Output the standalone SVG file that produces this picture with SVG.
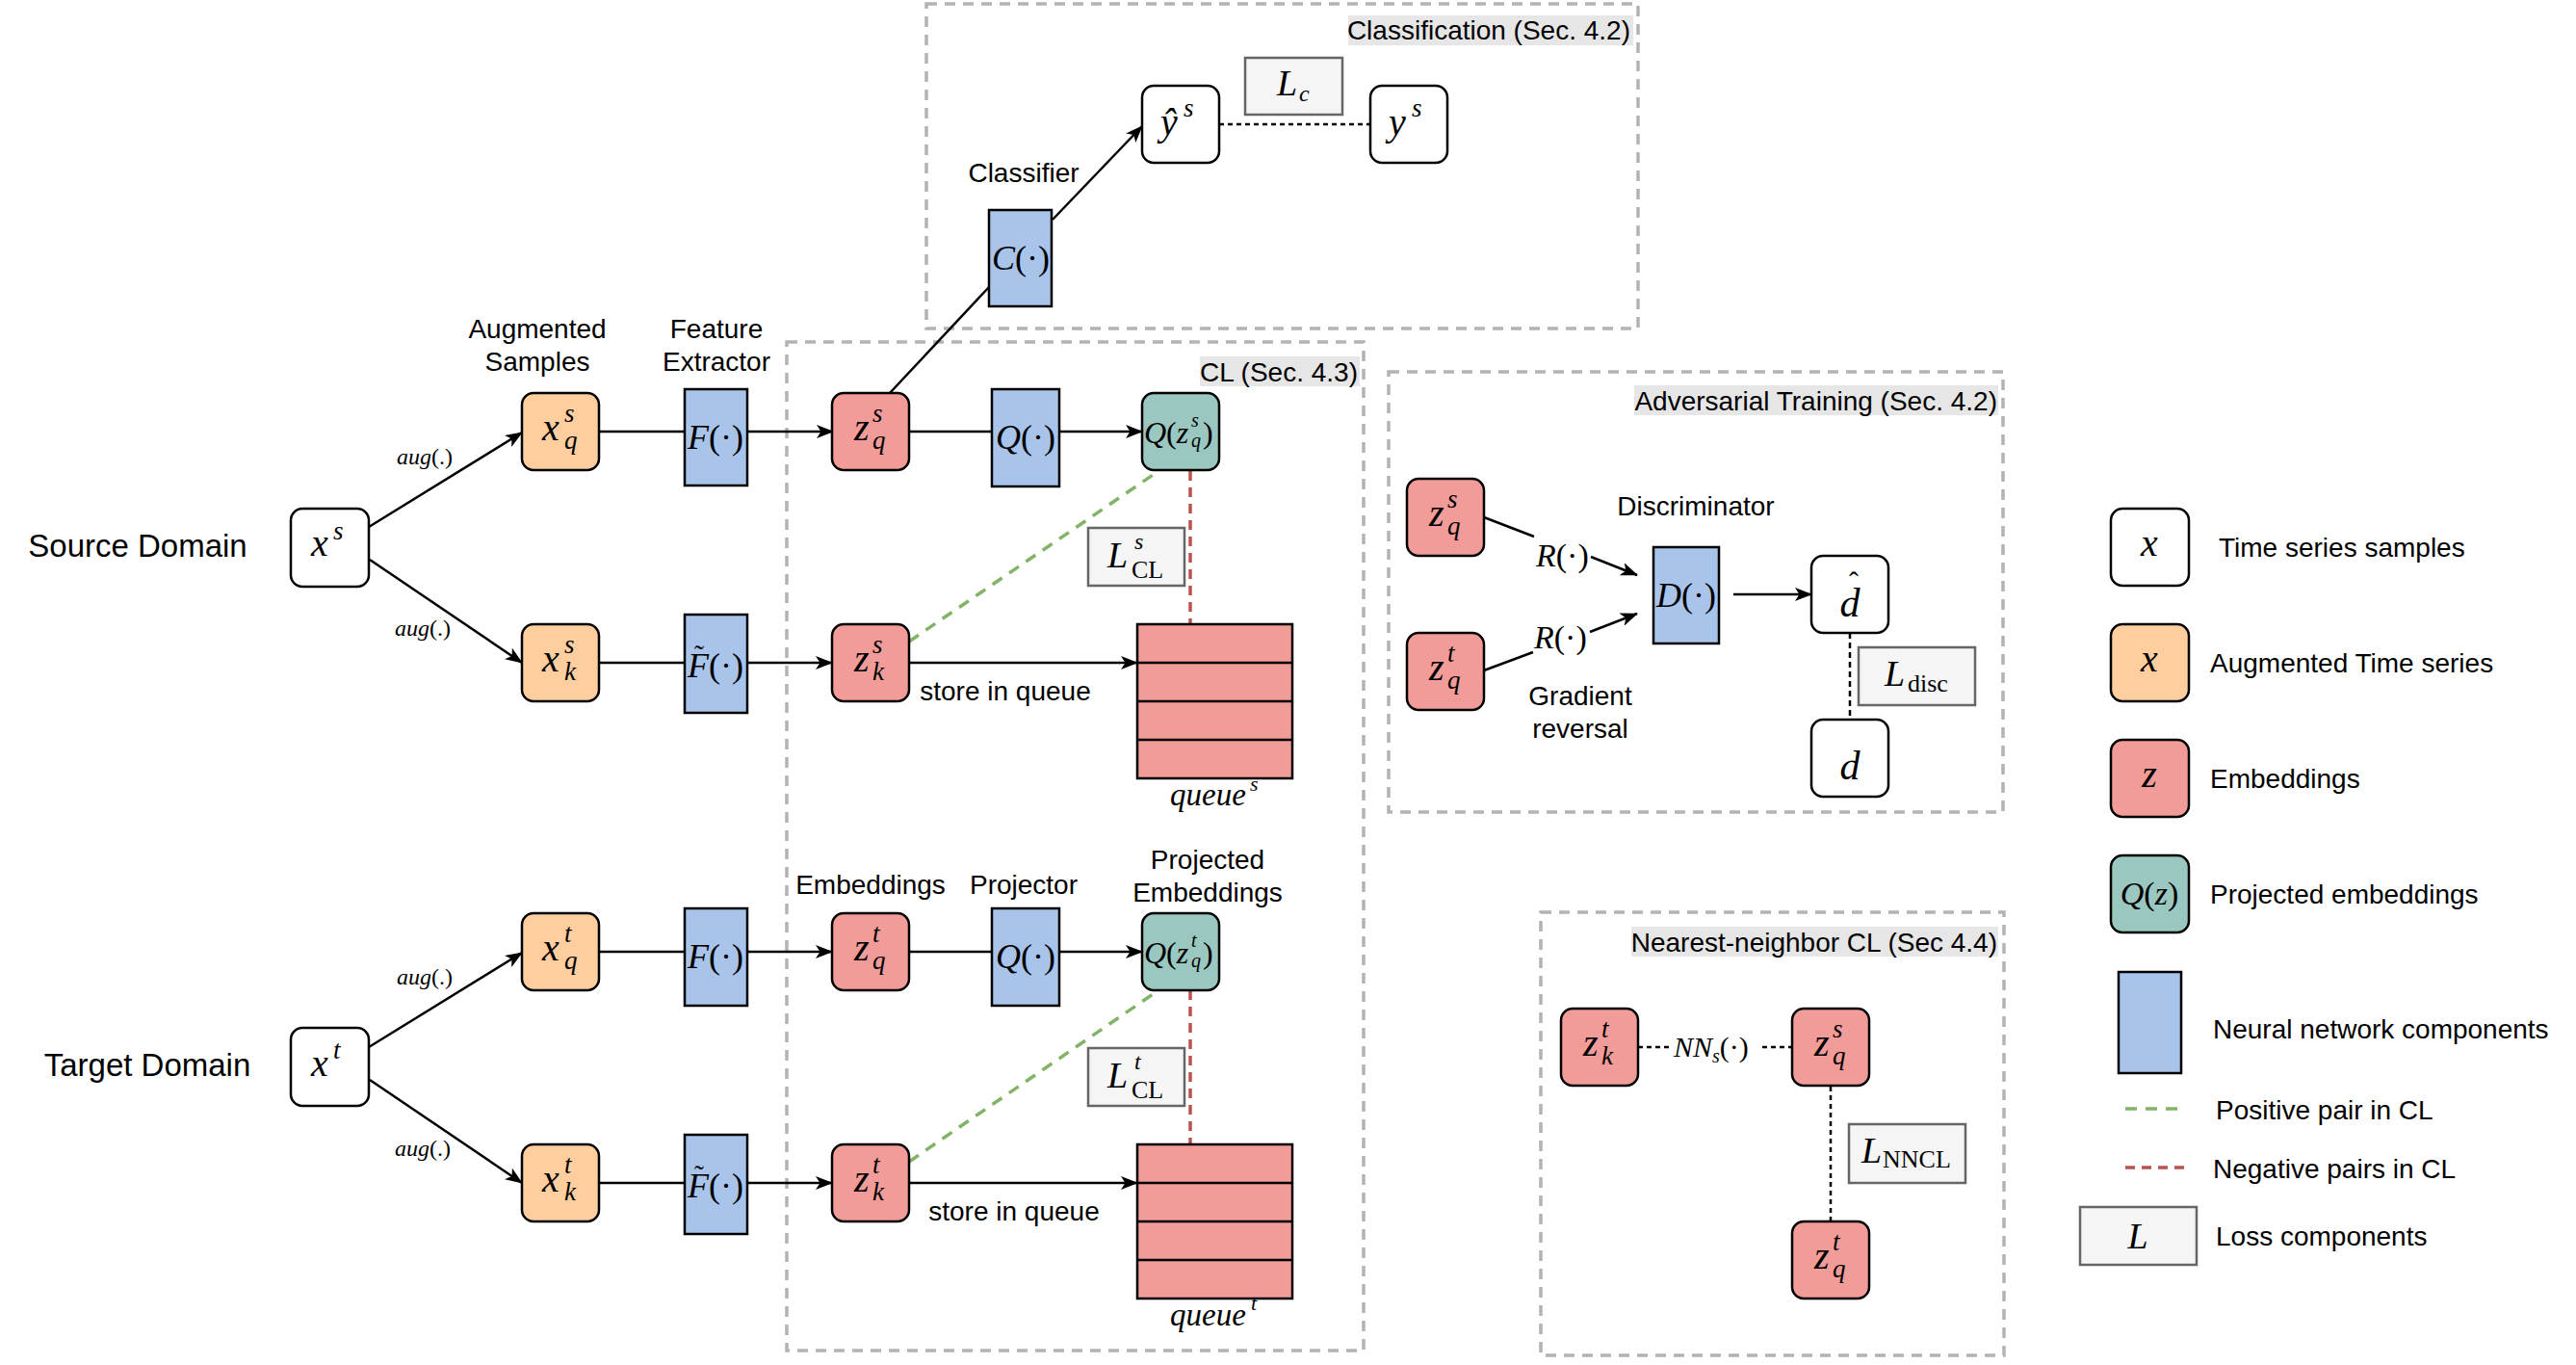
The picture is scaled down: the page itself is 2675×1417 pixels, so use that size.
<svg xmlns="http://www.w3.org/2000/svg" width="2675" height="1417" viewBox="0 0 2675 1417">
<defs>
<marker id="arr" viewBox="0 0 18 14" refX="17" refY="7" markerWidth="18" markerHeight="14" markerUnits="userSpaceOnUse" orient="auto"><path d="M0,0 L18,7 L0,14 L4.5,7 z" fill="#000"/></marker>
<style>
.t{font-family:"Liberation Sans",Arial,sans-serif;font-size:28px;fill:#000}
.dom{font-size:33px}
.mi{font-family:"Liberation Serif","Times New Roman",serif;font-style:italic;fill:#000}
.mr{font-family:"Liberation Serif","Times New Roman",serif;font-style:normal;fill:#000}
.b40{font-size:40px}
.s27{font-size:27px}
.nw{fill:#fff;stroke:#000;stroke-width:2.5}
.no{fill:#FFCE9F;stroke:#000;stroke-width:2.5}
.nr{fill:#F19C99;stroke:#000;stroke-width:2.5}
.ng{fill:#9AC7BF;stroke:#000;stroke-width:2.5}
.nb{fill:#A9C4EB;stroke:#000;stroke-width:2.5}
.nl{fill:#F5F5F5;stroke:#666;stroke-width:2.5}
.grp{fill:none;stroke:#B3B3B3;stroke-width:3.5;stroke-dasharray:11 8}
.ttl{fill:#E6E6E6}
.c{fill:none;stroke:#000;stroke-width:2.5}
.ca{fill:none;stroke:#000;stroke-width:2.5;marker-end:url(#arr)}
.pos{fill:none;stroke:#82B366;stroke-width:3.5;stroke-dasharray:12 9}
.neg{fill:none;stroke:#B85450;stroke-width:3.5;stroke-dasharray:10 7}
.dot{fill:none;stroke:#000;stroke-width:2.5;stroke-dasharray:5 4}
</style>
</defs>
<rect width="2675" height="1417" fill="#fff"/>

<g id="groups">
<rect class="grp" x="962" y="4" width="739" height="337"/>
<rect class="ttl" x="1400" y="16" width="296" height="31"/>
<text class="t" x="1693" y="41" text-anchor="end">Classification (Sec. 4.2)</text>
<rect class="grp" x="817" y="355" width="599" height="1047"/>
<rect class="ttl" x="1246" y="370" width="166" height="31"/>
<text class="t" x="1410" y="396" text-anchor="end">CL (Sec. 4.3)</text>
<rect class="grp" x="1442" y="386" width="638" height="457"/>
<rect class="ttl" x="1697" y="400" width="378" height="31"/>
<text class="t" x="2074" y="426" text-anchor="end">Adversarial Training (Sec. 4.2)</text>
<rect class="grp" x="1600" y="947" width="481" height="460"/>
<rect class="ttl" x="1694" y="962" width="381" height="31"/>
<text class="t" x="2074" y="988" text-anchor="end">Nearest-neighbor CL (Sec 4.4)</text>
</g>

<g id="labels">
<text class="t dom" x="143" y="578" text-anchor="middle">Source Domain</text>
<text class="t dom" x="153" y="1117" text-anchor="middle">Target Domain</text>
<text class="t" x="558" y="351" text-anchor="middle">Augmented</text>
<text class="t" x="558" y="385" text-anchor="middle">Samples</text>
<text class="t" x="744" y="351" text-anchor="middle">Feature</text>
<text class="t" x="744" y="385" text-anchor="middle">Extractor</text>
<text class="t" x="1063" y="189" text-anchor="middle">Classifier</text>
<text class="t" x="1761" y="535" text-anchor="middle">Discriminator</text>
<text class="t" x="1641" y="732" text-anchor="middle">Gradient</text>
<text class="t" x="1641" y="766" text-anchor="middle">reversal</text>
<text class="t" x="904" y="928" text-anchor="middle">Embeddings</text>
<text class="t" x="1063" y="928" text-anchor="middle">Projector</text>
<text class="t" x="1254" y="902" text-anchor="middle">Projected</text>
<text class="t" x="1254" y="936" text-anchor="middle">Embeddings</text>
<text class="t" x="1044" y="727" text-anchor="middle">store in queue</text>
<text class="t" x="1053" y="1267" text-anchor="middle">store in queue</text>
<text class="mi" x="412" y="482" font-size="24">aug<tspan class="mr">(.)</tspan></text>
<text class="mi" x="410" y="660" font-size="24">aug<tspan class="mr">(.)</tspan></text>
<text class="mi" x="412" y="1022" font-size="24">aug<tspan class="mr">(.)</tspan></text>
<text class="mi" x="410" y="1200" font-size="24">aug<tspan class="mr">(.)</tspan></text>
<text class="mi" x="1215" y="836" font-size="33">queue</text><text class="mi" x="1298" y="821" font-size="22">s</text>
<text class="mi" x="1215" y="1376" font-size="33">queue</text><text class="mi" x="1299" y="1360" font-size="22">t</text>
</g>

<g id="connectors">
<line class="ca" x1="383" y1="547" x2="542" y2="449"/>
<line class="ca" x1="384" y1="581" x2="542" y2="688"/>
<line class="c" x1="622" y1="448" x2="711" y2="448"/>
<line class="ca" x1="776" y1="448" x2="865" y2="448"/>
<line class="c" x1="622" y1="688" x2="711" y2="688"/>
<line class="ca" x1="776" y1="688" x2="864" y2="688"/>
<line class="c" x1="944" y1="448" x2="1030" y2="448"/>
<line class="ca" x1="1100" y1="448" x2="1186" y2="448"/>
<line class="c" x1="924" y1="408" x2="1027" y2="298"/>
<line class="ca" x1="1093" y1="228" x2="1186" y2="131"/>
<line class="dot" x1="1266" y1="129" x2="1423" y2="129"/>
<line class="ca" x1="944" y1="688" x2="1181" y2="688"/>
<line class="pos" x1="944" y1="666" x2="1203" y2="489"/>
<line class="neg" x1="1236" y1="489" x2="1236" y2="648"/>

<line class="ca" x1="383" y1="1087" x2="542" y2="989"/>
<line class="ca" x1="384" y1="1121" x2="542" y2="1228"/>
<line class="c" x1="622" y1="988" x2="711" y2="988"/>
<line class="ca" x1="776" y1="988" x2="864" y2="988"/>
<line class="c" x1="622" y1="1228" x2="711" y2="1228"/>
<line class="ca" x1="776" y1="1228" x2="864" y2="1228"/>
<line class="c" x1="944" y1="988" x2="1030" y2="988"/>
<line class="ca" x1="1100" y1="988" x2="1186" y2="988"/>
<line class="ca" x1="944" y1="1228" x2="1181" y2="1228"/>
<line class="pos" x1="944" y1="1206" x2="1203" y2="1028"/>
<line class="neg" x1="1236" y1="1028" x2="1236" y2="1188"/>

<line class="c" x1="1541" y1="537" x2="1593" y2="557"/>
<line class="ca" x1="1652" y1="578" x2="1700" y2="597"/>
<line class="c" x1="1541" y1="696" x2="1592" y2="677"/>
<line class="ca" x1="1651" y1="656" x2="1700" y2="637"/>
<line class="ca" x1="1800" y1="617" x2="1881" y2="617"/>
<line class="c" x1="1921" y1="657" x2="1921" y2="747" stroke-dasharray="6 4" stroke-width="2"/>

<line class="dot" x1="1701" y1="1087" x2="1736" y2="1087"/>
<line class="dot" x1="1830" y1="1087" x2="1861" y2="1087"/>
<line class="dot" x1="1901" y1="1128" x2="1901" y2="1268"/>
</g>

<g id="source">
<g id="n-xs"><rect class="nw" x="302" y="528" width="81" height="81" rx="12"/><text class="mi b40" x="323" y="577">x</text><text class="mi s27" x="346" y="560">s</text></g>
<g id="n-xqs"><rect class="no" x="542" y="408" width="80" height="80" rx="12"/><text class="mi b40" x="563" y="457">x</text><text class="mi s27" x="586" y="438">s</text><text class="mi s27" x="586" y="466">q</text></g>
<g id="n-xks"><rect class="no" x="542" y="648" width="80" height="80" rx="12"/><text class="mi b40" x="563" y="697">x</text><text class="mi s27" x="586" y="678">s</text><text class="mi s27" x="586" y="706">k</text></g>
<g id="n-Fs"><rect class="nb" x="711" y="404" width="65" height="100"/><text class="mi" x="743" y="466" font-size="36" text-anchor="middle">F<tspan class="mr">(·)</tspan></text></g>
<g id="n-Fts"><rect class="nb" x="711" y="638" width="65" height="102"/><text class="mi" x="743" y="703" font-size="36" text-anchor="middle">F<tspan class="mr">(·)</tspan></text><text class="mr" x="726" y="690" font-size="30" text-anchor="middle">˜</text></g>
<g id="n-zqs"><rect class="nr" x="864" y="408" width="80" height="80" rx="12"/><text class="mi b40" x="887" y="457">z</text><text class="mi s27" x="906" y="438">s</text><text class="mi s27" x="906" y="466">q</text></g>
<g id="n-zks"><rect class="nr" x="864" y="648" width="80" height="80" rx="12"/><text class="mi b40" x="887" y="697">z</text><text class="mi s27" x="906" y="678">s</text><text class="mi s27" x="906" y="706">k</text></g>
<g id="n-Qs"><rect class="nb" x="1030" y="404" width="70" height="101"/><text class="mi" x="1065" y="466" font-size="36" text-anchor="middle">Q<tspan class="mr">(·)</tspan></text></g>
<g id="n-Qzqs"><rect class="ng" x="1186" y="408" width="80" height="80" rx="12"/><text class="mi" x="1188" y="460" font-size="32">Q<tspan class="mr">(</tspan>z</text><text class="mi" x="1237" y="443" font-size="20">s</text><text class="mi" x="1237" y="464" font-size="20">q</text><text class="mr" x="1249" y="460" font-size="32">)</text></g>
<g id="n-queues"><rect class="nr" x="1181" y="648" width="161" height="160"/><line class="c" x1="1181" y1="688" x2="1342" y2="688"/><line class="c" x1="1181" y1="728" x2="1342" y2="728"/><line class="c" x1="1181" y1="768" x2="1342" y2="768"/></g>
<g id="n-LCLs"><rect class="nl" x="1130" y="548" width="100" height="60"/><text class="mi" x="1150" y="589" font-size="38" fill="#333">L</text><text class="mi" x="1178" y="570" font-size="24">s</text><text class="mr" x="1175" y="600" font-size="26">CL</text></g>
</g>

<g id="classification">
<g id="n-C"><rect class="nb" x="1027" y="218" width="65" height="100"/><text class="mi" x="1060" y="280" font-size="36" text-anchor="middle">C<tspan class="mr">(·)</tspan></text></g>
<g id="n-yhat"><rect class="nw" x="1186" y="89" width="80" height="80" rx="12"/><text class="mi b40" x="1205" y="140">ŷ</text><text class="mi s27" x="1229" y="121">s</text></g>
<g id="n-ys"><rect class="nw" x="1423" y="89" width="80" height="80" rx="12"/><text class="mi b40" x="1442" y="140">y</text><text class="mi s27" x="1466" y="121">s</text></g>
<g id="n-Lc"><rect class="nl" x="1293" y="60" width="101" height="59"/><text class="mi" x="1326" y="99" font-size="38" fill="#333">L</text><text class="mi" x="1349" y="105" font-size="24">c</text></g>
</g>

<g id="target">
<g id="n-xt"><rect class="nw" x="302" y="1067" width="81" height="81" rx="12"/><text class="mi b40" x="323" y="1117">x</text><text class="mi s27" x="346" y="1099">t</text></g>
<g id="n-xqt"><rect class="no" x="542" y="948" width="80" height="80" rx="12"/><text class="mi b40" x="563" y="997">x</text><text class="mi s27" x="586" y="978">t</text><text class="mi s27" x="586" y="1006">q</text></g>
<g id="n-xkt"><rect class="no" x="542" y="1188" width="80" height="80" rx="12"/><text class="mi b40" x="563" y="1237">x</text><text class="mi s27" x="586" y="1218">t</text><text class="mi s27" x="586" y="1246">k</text></g>
<g id="n-Ft"><rect class="nb" x="711" y="943" width="65" height="101"/><text class="mi" x="743" y="1005" font-size="36" text-anchor="middle">F<tspan class="mr">(·)</tspan></text></g>
<g id="n-Ftt"><rect class="nb" x="711" y="1178" width="65" height="103"/><text class="mi" x="743" y="1243" font-size="36" text-anchor="middle">F<tspan class="mr">(·)</tspan></text><text class="mr" x="726" y="1230" font-size="30" text-anchor="middle">˜</text></g>
<g id="n-zqt"><rect class="nr" x="864" y="948" width="80" height="80" rx="12"/><text class="mi b40" x="887" y="997">z</text><text class="mi s27" x="906" y="978">t</text><text class="mi s27" x="906" y="1006">q</text></g>
<g id="n-zkt"><rect class="nr" x="864" y="1188" width="80" height="80" rx="12"/><text class="mi b40" x="887" y="1237">z</text><text class="mi s27" x="906" y="1218">t</text><text class="mi s27" x="906" y="1246">k</text></g>
<g id="n-Qt"><rect class="nb" x="1030" y="943" width="70" height="101"/><text class="mi" x="1065" y="1005" font-size="36" text-anchor="middle">Q<tspan class="mr">(·)</tspan></text></g>
<g id="n-Qzqt"><rect class="ng" x="1186" y="948" width="80" height="80" rx="12"/><text class="mi" x="1188" y="1000" font-size="32">Q<tspan class="mr">(</tspan>z</text><text class="mi" x="1237" y="983" font-size="20">t</text><text class="mi" x="1237" y="1004" font-size="20">q</text><text class="mr" x="1249" y="1000" font-size="32">)</text></g>
<g id="n-queuet"><rect class="nr" x="1181" y="1188" width="161" height="160"/><line class="c" x1="1181" y1="1228" x2="1342" y2="1228"/><line class="c" x1="1181" y1="1268" x2="1342" y2="1268"/><line class="c" x1="1181" y1="1308" x2="1342" y2="1308"/></g>
<g id="n-LCLt"><rect class="nl" x="1130" y="1088" width="100" height="60"/><text class="mi" x="1150" y="1129" font-size="38" fill="#333">L</text><text class="mi" x="1178" y="1110" font-size="24">t</text><text class="mr" x="1175" y="1140" font-size="26">CL</text></g>
</g>

<g id="adversarial">
<g id="n-adv-zqs"><rect class="nr" x="1461" y="497" width="80" height="80" rx="12"/><text class="mi b40" x="1484" y="546">z</text><text class="mi s27" x="1503" y="527">s</text><text class="mi s27" x="1503" y="555">q</text></g>
<g id="n-adv-zqt"><rect class="nr" x="1461" y="657" width="80" height="80" rx="12"/><text class="mi b40" x="1484" y="706">z</text><text class="mi s27" x="1503" y="687">t</text><text class="mi s27" x="1503" y="715">q</text></g>
<text class="mi" x="1595" y="588" font-size="34">R<tspan class="mr">(·)</tspan></text>
<text class="mi" x="1593" y="673" font-size="34">R<tspan class="mr">(·)</tspan></text>
<g id="n-D"><rect class="nb" x="1717" y="568" width="68" height="100"/><text class="mi" x="1751" y="630" font-size="36" text-anchor="middle">D<tspan class="mr">(·)</tspan></text></g>
<g id="n-dhat"><rect class="nw" x="1881" y="577" width="80" height="80" rx="12"/><text class="mi" x="1921" y="640" font-size="42" text-anchor="middle">d</text><text class="mr" x="1925" y="614" font-size="30" text-anchor="middle">ˆ</text></g>
<g id="n-d"><rect class="nw" x="1881" y="747" width="80" height="80" rx="12"/><text class="mi" x="1921" y="809" font-size="42" text-anchor="middle">d</text></g>
<g id="n-Ldisc"><rect class="nl" x="1930" y="672" width="121" height="60"/><text class="mi" x="1957" y="712" font-size="38" fill="#333">L</text><text class="mr" x="1981" y="718" font-size="26">disc</text></g>
</g>

<g id="nncl">
<g id="n-nn-zkt"><rect class="nr" x="1621" y="1047" width="80" height="80" rx="12"/><text class="mi b40" x="1644" y="1096">z</text><text class="mi s27" x="1663" y="1077">t</text><text class="mi s27" x="1663" y="1105">k</text></g>
<g id="n-nn-zqs"><rect class="nr" x="1861" y="1047" width="80" height="80" rx="12"/><text class="mi b40" x="1884" y="1096">z</text><text class="mi s27" x="1903" y="1077">s</text><text class="mi s27" x="1903" y="1105">q</text></g>
<g id="n-nn-zqt"><rect class="nr" x="1861" y="1268" width="80" height="80" rx="12"/><text class="mi b40" x="1884" y="1317">z</text><text class="mi s27" x="1903" y="1298">t</text><text class="mi s27" x="1903" y="1326">q</text></g>
<text class="mi" x="1738" y="1097" font-size="30">NN<tspan font-size="20" dy="6">s</tspan><tspan class="mr" dy="-6">(·)</tspan></text>
<g id="n-LNNCL"><rect class="nl" x="1920" y="1167" width="121" height="61"/><text class="mi" x="1933" y="1207" font-size="38" fill="#333">L</text><text class="mr" x="1955" y="1212" font-size="26">NNCL</text></g>
</g>

<g id="legend">
<g id="lg-x"><rect class="nw" x="2192" y="528" width="81" height="80" rx="12"/><text class="mi b40" x="2232" y="577" text-anchor="middle">x</text></g>
<text class="t" x="2304" y="578">Time series samples</text>
<g id="lg-aug"><rect class="no" x="2192" y="648" width="81" height="80" rx="12"/><text class="mi b40" x="2232" y="697" text-anchor="middle">x</text></g>
<text class="t" x="2295" y="698">Augmented Time series</text>
<g id="lg-z"><rect class="nr" x="2192" y="768" width="81" height="80" rx="12"/><text class="mi b40" x="2232" y="817" text-anchor="middle">z</text></g>
<text class="t" x="2295" y="818">Embeddings</text>
<g id="lg-q"><rect class="ng" x="2192" y="888" width="81" height="80" rx="12"/><text class="mi" x="2232" y="939" font-size="34" text-anchor="middle">Q<tspan class="mr">(</tspan>z<tspan class="mr">)</tspan></text></g>
<text class="t" x="2295" y="938">Projected embeddings</text>
<g id="lg-nn"><rect class="nb" x="2200" y="1009" width="65" height="105"/></g>
<text class="t" x="2298" y="1078">Neural network components</text>
<line class="pos" x1="2207" y1="1151" x2="2270" y2="1151" stroke-dasharray="12 12"/>
<text class="t" x="2301" y="1162">Positive pair in CL</text>
<line class="neg" x1="2207" y1="1212" x2="2270" y2="1212" stroke-dasharray="12 12"/>
<text class="t" x="2298" y="1223">Negative pairs in CL</text>
<g id="lg-L"><rect class="nl" x="2160" y="1253" width="121" height="60"/><text class="mi" x="2220" y="1296" font-size="38" fill="#333" text-anchor="middle">L</text></g>
<text class="t" x="2301" y="1293">Loss components</text>
</g>
</svg>
